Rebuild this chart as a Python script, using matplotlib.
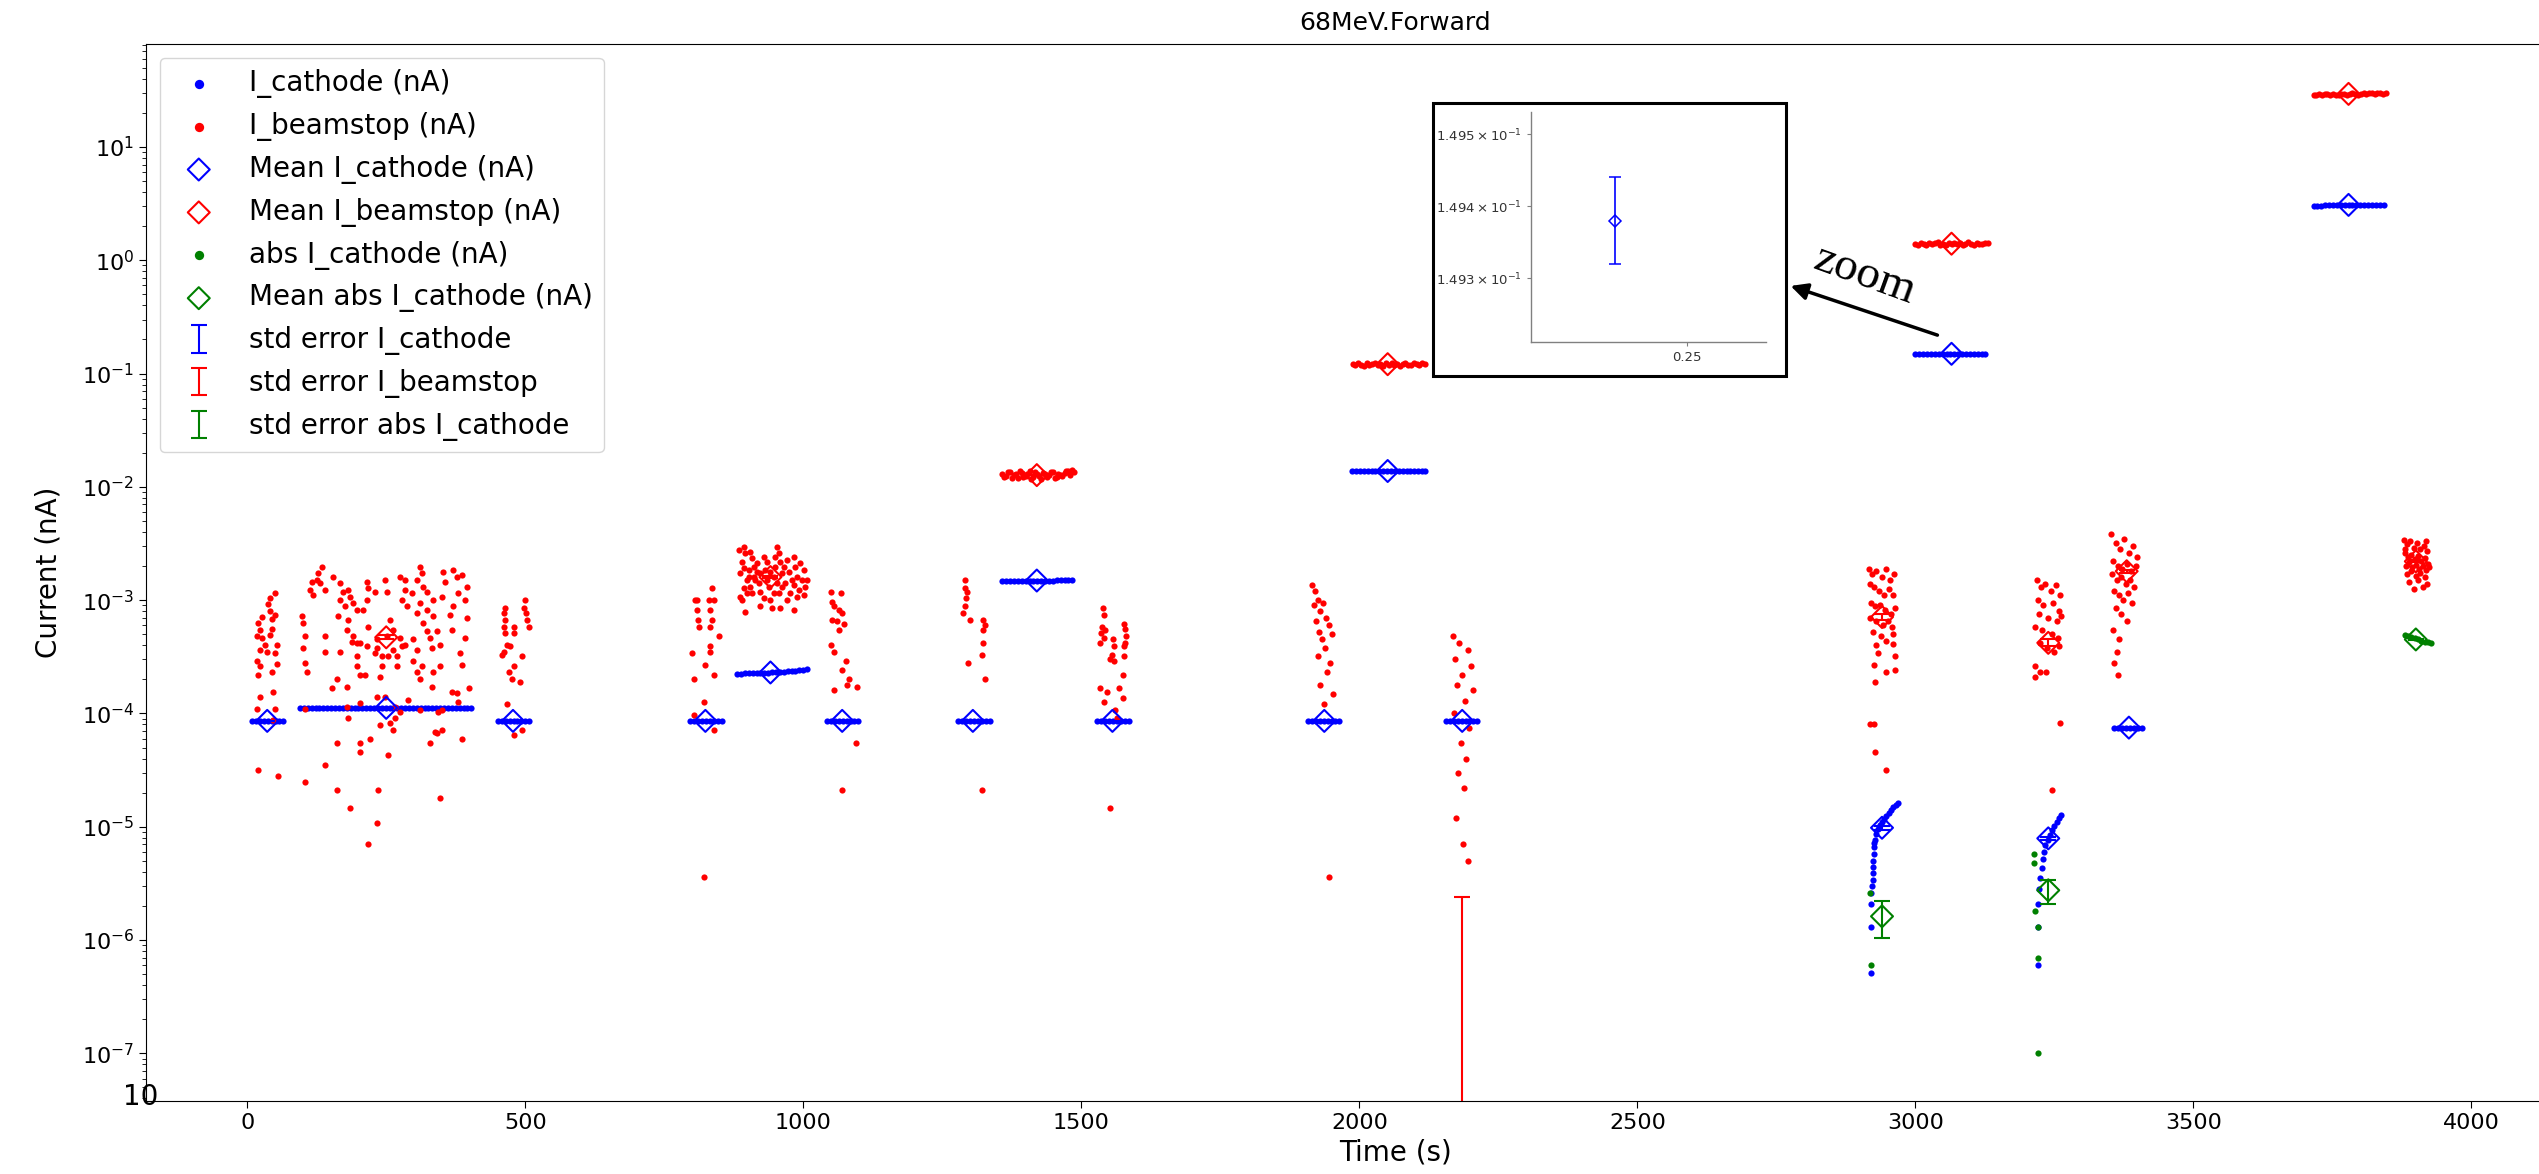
import numpy as np
import matplotlib
matplotlib.use('Agg')
import matplotlib.pyplot as plt
from matplotlib.patches import Rectangle

#%% I_cathode samples (nA), one pair of lists per beam-on / beam-off period
cath_t_01 = [9, 16, 23, 30, 37, 44, 51, 58, 65]
cath_i_01 = [8.6e-5, 8.6e-5, 8.6e-5, 8.6e-5, 8.6e-5, 8.6e-5, 8.6e-5, 8.6e-5, 8.6e-5]
cath_t_02 = [95, 102, 109, 116, 123, 130, 137, 144, 151, 158, 165, 172, 179, 186, 193,
             200, 207, 214, 221, 228, 235, 242, 249, 256, 263, 270, 277, 284, 291, 298,
             305, 312, 319, 326, 333, 340, 347, 354, 361, 368, 375, 382, 389, 396, 403]
cath_i_02 = [1.12e-4, 1.12e-4, 1.12e-4, 1.12e-4, 1.12e-4, 1.12e-4, 1.12e-4, 1.12e-4, 1.12e-4,
             1.12e-4, 1.12e-4, 1.12e-4, 1.12e-4, 1.12e-4, 1.12e-4, 1.12e-4, 1.12e-4, 1.12e-4,
             1.12e-4, 1.12e-4, 1.12e-4, 1.12e-4, 1.12e-4, 1.12e-4, 1.12e-4, 1.12e-4, 1.12e-4,
             1.12e-4, 1.12e-4, 1.12e-4, 1.12e-4, 1.12e-4, 1.12e-4, 1.12e-4, 1.12e-4, 1.12e-4,
             1.12e-4, 1.12e-4, 1.12e-4, 1.12e-4, 1.12e-4, 1.12e-4, 1.12e-4, 1.12e-4, 1.12e-4]
cath_t_03 = [451, 458, 465, 472, 479, 486, 493, 500, 507]
cath_i_03 = [8.6e-5, 8.6e-5, 8.6e-5, 8.6e-5, 8.6e-5, 8.6e-5, 8.6e-5, 8.6e-5, 8.6e-5]
cath_t_04 = [797, 804, 811, 818, 825, 832, 839, 846, 853]
cath_i_04 = [8.6e-5, 8.6e-5, 8.6e-5, 8.6e-5, 8.6e-5, 8.6e-5, 8.6e-5, 8.6e-5, 8.6e-5]
cath_t_05 = [881, 888, 895, 902, 909, 916, 923, 930, 937, 944, 951, 958, 965, 972, 979,
             986, 993, 1000, 1007]
cath_i_05 = [2.25e-4, 2.25e-4, 2.26e-4, 2.26e-4, 2.27e-4, 2.27e-4, 2.28e-4, 2.28e-4, 2.29e-4,
             2.30e-4, 2.31e-4, 2.32e-4, 2.33e-4, 2.35e-4, 2.37e-4, 2.39e-4, 2.42e-4, 2.44e-4,
             2.45e-4]
cath_t_06 = [1043, 1050, 1057, 1064, 1071, 1078, 1085, 1092, 1099]
cath_i_06 = [8.6e-5, 8.6e-5, 8.6e-5, 8.6e-5, 8.6e-5, 8.6e-5, 8.6e-5, 8.6e-5, 8.6e-5]
cath_t_07 = [1279, 1286, 1293, 1300, 1307, 1314, 1321, 1328, 1335]
cath_i_07 = [8.6e-5, 8.6e-5, 8.6e-5, 8.6e-5, 8.6e-5, 8.6e-5, 8.6e-5, 8.6e-5, 8.6e-5]
cath_t_08 = [1358, 1365, 1372, 1379, 1386, 1393, 1400, 1407, 1414, 1421, 1428, 1435, 1442,
             1449, 1456, 1463, 1470, 1477, 1484]
cath_i_08 = [1.48e-3, 1.48e-3, 1.48e-3, 1.48e-3, 1.49e-3, 1.49e-3, 1.49e-3, 1.49e-3, 1.49e-3,
             1.49e-3, 1.49e-3, 1.49e-3, 1.49e-3, 1.49e-3, 1.50e-3, 1.50e-3, 1.51e-3, 1.52e-3,
             1.52e-3]
cath_t_09 = [1529, 1536, 1543, 1550, 1557, 1564, 1571, 1578, 1585]
cath_i_09 = [8.6e-5, 8.6e-5, 8.6e-5, 8.6e-5, 8.6e-5, 8.6e-5, 8.6e-5, 8.6e-5, 8.6e-5]
cath_t_10 = [1908, 1915, 1922, 1929, 1936, 1943, 1950, 1957, 1964]
cath_i_10 = [8.6e-5, 8.6e-5, 8.6e-5, 8.6e-5, 8.6e-5, 8.6e-5, 8.6e-5, 8.6e-5, 8.6e-5]
cath_t_11 = [1987, 1994, 2001, 2008, 2015, 2022, 2029, 2036, 2043, 2050, 2057, 2064, 2071,
             2078, 2085, 2092, 2099, 2106, 2113, 2119]
cath_i_11 = [1.38e-2, 1.38e-2, 1.38e-2, 1.38e-2, 1.38e-2, 1.38e-2, 1.38e-2, 1.38e-2, 1.38e-2,
             1.38e-2, 1.38e-2, 1.38e-2, 1.38e-2, 1.38e-2, 1.38e-2, 1.38e-2, 1.38e-2, 1.38e-2,
             1.38e-2, 1.38e-2]
cath_t_12 = [2156, 2163, 2170, 2177, 2184, 2191, 2198, 2205, 2212]
cath_i_12 = [8.6e-5, 8.6e-5, 8.6e-5, 8.6e-5, 8.6e-5, 8.6e-5, 8.6e-5, 8.6e-5, 8.6e-5]
cath_t_13 = [2920, 2920, 2921, 2921, 2922, 2923, 2923, 2924, 2924, 2925, 2925, 2926, 2927,
             2929, 2932, 2936, 2940, 2944, 2948, 2952, 2956, 2960, 2965, 2968]
cath_i_13 = [5.1e-7, 1.3e-6, 2.1e-6, 2.6e-6, 3.0e-6, 3.4e-6, 3.9e-6, 4.4e-6, 5.0e-6, 5.8e-6,
             6.6e-6, 7.2e-6, 7.7e-6, 8.6e-6, 9.5e-6, 1.03e-5, 1.10e-5, 1.17e-5, 1.25e-5,
             1.33e-5, 1.42e-5, 1.50e-5, 1.57e-5, 1.62e-5]
cath_t_14 = [3220, 3220, 3221, 3223, 3225, 3227, 3229, 3231, 3234, 3238, 3242, 3246, 3250,
             3254, 3258, 3262]
cath_i_14 = [6.0e-7, 1.3e-6, 2.1e-6, 2.8e-6, 3.5e-6, 4.3e-6, 5.2e-6, 6.0e-6, 6.9e-6, 7.6e-6,
             8.4e-6, 9.3e-6, 1.02e-5, 1.10e-5, 1.19e-5, 1.28e-5]
cath_t_15 = [3000, 3007, 3014, 3021, 3028, 3035, 3042, 3049, 3056, 3063, 3070, 3077, 3084,
             3091, 3098, 3105, 3112, 3119, 3126]
cath_i_15 = [0.1494, 0.1494, 0.1494, 0.1494, 0.1494, 0.1494, 0.1494, 0.1494, 0.1494, 0.1494,
             0.1494, 0.1494, 0.1494, 0.1494, 0.1494, 0.1494, 0.1494, 0.1494, 0.1494]
cath_t_16 = [3358, 3365, 3372, 3379, 3386, 3393, 3400, 3407]
cath_i_16 = [7.5e-5, 7.5e-5, 7.5e-5, 7.5e-5, 7.5e-5, 7.5e-5, 7.5e-5, 7.5e-5]
cath_t_17 = [3716, 3723, 3730, 3737, 3744, 3751, 3758, 3765, 3772, 3779, 3786, 3793, 3800,
             3807, 3814, 3821, 3828, 3835, 3842]
cath_i_17 = [3.02, 3.03, 3.04, 3.06, 3.07, 3.08, 3.08, 3.08, 3.08, 3.08, 3.08, 3.09, 3.09,
             3.09, 3.09, 3.09, 3.09, 3.09, 3.09]

#%% I_beamstop samples (nA)
beam_t_01 = [50, 41, 38, 41, 26, 50, 20, 44, 23, 17, 26, 41, 44, 32, 23, 53, 35, 50, 17, 53,
             23, 20, 44, 23, 47, 17, 50, 47, 20, 56]
beam_i_01 = [1.15e-3, 1.05e-3, 9.3e-4, 8.1e-4, 7.1e-4, 7.4e-4, 6.3e-4, 6.8e-4, 5.5e-4, 4.8e-4,
             4.6e-4, 4.9e-4, 5.6e-4, 4.0e-4, 3.6e-4, 4.0e-4, 3.5e-4, 3.4e-4, 2.9e-4, 2.75e-4,
             2.6e-4, 2.2e-4, 2.3e-4, 1.4e-4, 1.55e-4, 1.1e-4, 1.1e-4, 8.7e-5, 3.2e-5, 2.8e-5]
beam_t_02 = [134, 128, 125, 116, 131, 113, 119, 140, 155, 167, 173, 182, 167, 185, 191, 176,
             197, 215, 218, 230, 248, 251, 215, 209, 275, 284, 284, 278, 287, 296, 311, 314,
             305, 317, 323, 311, 305, 335, 350, 353, 356, 371, 377, 386, 395, 392, 380, 371,
             395, 365, 335, 323,
             98, 101, 104, 101, 104, 107, 140, 140, 167, 179, 182, 191, 197, 188, 203, 215,
             218, 233, 233, 242, 230, 251, 257, 263, 263, 269, 269, 242, 275, 278, 284, 299,
             305, 317, 323, 329, 332, 341, 347, 347, 314, 305, 335, 332, 311, 299, 197, 203,
             212, 239, 197, 161, 179, 152, 383, 386, 392, 368, 398, 368, 377, 380, 164, 254,
             104, 179, 203, 233, 248, 266, 275, 266, 182, 257, 239, 263, 290, 311, 344, 350,
             341, 350, 338, 386, 329, 221, 203, 203, 161, 254, 140, 104, 161, 236, 185, 233,
             218, 347]
beam_i_02 = [1.98e-3, 1.73e-3, 1.51e-3, 1.46e-3, 1.41e-3, 1.23e-3, 1.11e-3, 1.23e-3, 1.61e-3,
             1.41e-3, 1.19e-3, 1.23e-3, 1.00e-3, 1.07e-3, 9.4e-4, 8.8e-4, 8.2e-4, 1.46e-3,
             1.27e-3, 1.19e-3, 1.51e-3, 1.19e-3, 1.00e-3, 8.2e-4, 1.61e-3, 1.51e-3, 1.23e-3,
             1.00e-3, 8.8e-4, 1.15e-3, 1.98e-3, 1.73e-3, 1.51e-3, 1.32e-3, 1.19e-3, 9.4e-4,
             7.7e-4, 1.00e-3, 1.07e-3, 1.79e-3, 1.46e-3, 1.85e-3, 1.61e-3, 1.67e-3, 1.32e-3,
             1.00e-3, 1.15e-3, 8.8e-4, 6.9e-4, 7.4e-4, 7.2e-4, 8.2e-4,
             7.2e-4, 6.3e-4, 4.8e-4, 3.8e-4, 2.8e-4, 2.3e-4, 4.8e-4, 3.5e-4, 3.5e-4, 5.5e-4,
             6.7e-4, 4.8e-4, 4.2e-4, 4.3e-4, 4.2e-4, 3.9e-4, 5.8e-4, 4.5e-4, 3.8e-4, 3.2e-4,
             3.4e-4, 4.8e-4, 6.7e-4, 5.5e-4, 3.6e-4, 3.2e-4, 2.6e-4, 2.6e-4, 4.6e-4, 3.9e-4,
             4.0e-4, 4.5e-4, 3.6e-4, 6.3e-4, 5.3e-4, 4.6e-4, 3.8e-4, 5.3e-4, 4.0e-4, 2.6e-4,
             2.6e-4, 2.3e-4, 2.3e-4, 1.7e-4, 2.0e-4, 2.9e-4, 3.2e-4, 2.2e-4, 2.2e-4, 2.1e-4,
             2.6e-4, 2.0e-4, 1.7e-4, 1.67e-4, 3.4e-4, 2.7e-4, 4.6e-4, 5.5e-4, 1.67e-4, 1.56e-4,
             1.51e-4, 1.27e-4, 7.2e-4, 3.2e-4,
             1.10e-4, 1.13e-4, 1.23e-4, 1.41e-4, 1.41e-4, 1.15e-4, 1.04e-4, 9.1e-5, 9.1e-5,
             8.2e-5, 7.9e-5, 7.2e-5, 1.32e-4, 1.07e-4, 1.04e-4, 1.07e-4, 6.7e-5, 7.2e-5, 6.9e-5,
             6.0e-5, 5.5e-5, 6.0e-5, 5.5e-5, 4.6e-5, 5.5e-5, 4.3e-5, 3.5e-5, 2.5e-5, 2.1e-5,
             2.1e-5, 1.46e-5, 1.07e-5, 7.1e-6, 1.8e-5]
beam_t_03 = [500, 497, 502, 503, 506, 464, 461, 464, 461, 479, 464, 479, 467, 473, 461, 458,
             494, 479, 470, 476, 491, 467, 494, 479]
beam_i_03 = [1.0e-3, 8.5e-4, 7.7e-4, 6.7e-4, 5.8e-4, 8.5e-4, 7.7e-4, 6.7e-4, 5.8e-4, 5.8e-4,
             5.1e-4, 5.1e-4, 4.0e-4, 3.9e-4, 3.5e-4, 3.3e-4, 3.2e-4, 2.6e-4, 2.3e-4, 2.0e-4,
             1.9e-4, 1.2e-4, 7.2e-5, 6.5e-5]
beam_t_04 = [806, 809, 810, 812, 836, 839, 833, 836, 833, 848, 832, 833, 800, 824, 839, 803,
             821, 803, 839, 821, 830, 809]
beam_i_04 = [1.0e-3, 8.2e-4, 6.7e-4, 5.8e-4, 1.27e-3, 1.0e-3, 8.2e-4, 6.7e-4, 5.8e-4, 4.8e-4,
             3.9e-4, 3.5e-4, 3.4e-4, 2.7e-4, 2.2e-4, 2.0e-4, 1.25e-4, 9.7e-5, 7.2e-5, 3.6e-6,
             1.0e-3, 1.0e-3]
beam_t_05 = [884, 893, 896, 905, 908, 890, 887, 893, 902, 899, 911, 917, 923, 914, 920, 905,
             893, 887, 890, 899, 908, 923, 929, 935, 941, 947, 938, 953, 956, 959, 950, 962,
             953, 947, 941, 923, 944, 959, 896, 965, 971, 974, 968, 977, 971, 983, 986, 989,
             983, 992, 995, 1001, 998, 1004, 1007, 1001, 989, 980, 935, 929, 917, 911, 902,
             932, 956, 962, 950, 984]
beam_i_05 = [2.77e-3, 2.97e-3, 2.59e-3, 2.68e-3, 2.34e-3, 2.19e-3, 1.73e-3, 1.91e-3, 1.85e-3,
             1.51e-3, 1.98e-3, 1.79e-3, 1.73e-3, 1.51e-3, 1.41e-3, 1.32e-3, 1.27e-3, 1.07e-3,
             1.0e-3, 1.15e-3, 1.15e-3, 1.19e-3, 1.04e-3, 1.51e-3, 1.79e-3, 1.61e-3, 1.32e-3,
             2.97e-3, 2.59e-3, 2.19e-3, 1.98e-3, 1.73e-3, 1.41e-3, 1.15e-3, 1.0e-3, 8.8e-4,
             8.5e-4, 8.5e-4, 7.8e-4, 1.98e-3, 2.26e-3, 1.79e-3, 1.41e-3, 1.15e-3, 1.0e-3,
             2.42e-3, 1.98e-3, 1.61e-3, 1.36e-3, 1.23e-3, 2.11e-3, 1.85e-3, 1.51e-3, 1.32e-3,
             1.51e-3, 1.11e-3, 1.07e-3, 1.51e-3, 2.19e-3, 2.42e-3, 2.11e-3, 1.61e-3, 1.61e-3,
             1.85e-3, 1.15e-3, 1.32e-3, 2.42e-3, 8.2e-4]
beam_t_06 = [1049, 1067, 1052, 1055, 1064, 1070, 1052, 1061, 1073, 1064, 1049, 1055, 1076,
             1070, 1082, 1097, 1079, 1055, 1094, 1070]
beam_i_06 = [1.19e-3, 1.15e-3, 9.7e-4, 8.8e-4, 8.2e-4, 7.7e-4, 6.7e-4, 6.5e-4, 6.2e-4, 5.5e-4,
             4.0e-4, 3.5e-4, 2.9e-4, 2.4e-4, 2.0e-4, 1.7e-4, 1.8e-4, 1.6e-4, 5.5e-5, 2.1e-5]
beam_t_07 = [1291, 1290, 1294, 1293, 1291, 1288, 1299, 1324, 1327, 1323, 1324, 1321, 1297,
             1327, 1321]
beam_i_07 = [1.51e-3, 1.27e-3, 1.19e-3, 1.04e-3, 8.8e-4, 7.7e-4, 6.7e-4, 6.7e-4, 6.0e-4,
             5.5e-4, 4.2e-4, 3.3e-4, 2.8e-4, 2.0e-4, 2.1e-5]
beam_t_08 = [1358, 1361, 1365, 1368, 1372, 1375, 1379, 1382, 1386, 1389, 1393, 1396, 1400,
             1403, 1407, 1410, 1414, 1417, 1421, 1424, 1428, 1431, 1435, 1438, 1442, 1445,
             1449, 1452, 1456, 1459, 1463, 1466, 1470, 1473, 1477, 1480, 1484, 1487]
beam_i_08 = [1.30e-2, 1.23e-2, 1.24e-2, 1.34e-2, 1.36e-2, 1.20e-2, 1.27e-2, 1.29e-2, 1.19e-2,
             1.37e-2, 1.33e-2, 1.22e-2, 1.25e-2, 1.31e-2, 1.38e-2, 1.18e-2, 1.22e-2, 1.35e-2,
             1.29e-2, 1.24e-2, 1.17e-2, 1.32e-2, 1.31e-2, 1.21e-2, 1.26e-2, 1.36e-2, 1.35e-2,
             1.19e-2, 1.21e-2, 1.30e-2, 1.28e-2, 1.25e-2, 1.33e-2, 1.39e-2, 1.37e-2, 1.28e-2,
             1.40e-2, 1.34e-2]
beam_t_09 = [1539, 1540, 1537, 1535, 1540, 1534, 1543, 1557, 1559, 1555, 1558, 1552, 1576,
             1579, 1581, 1579, 1576, 1577, 1575, 1534, 1546, 1540, 1567, 1575, 1561, 1564, 1551]
beam_i_09 = [8.6e-4, 7.4e-4, 5.8e-4, 5.1e-4, 4.6e-4, 4.2e-4, 5.5e-4, 4.5e-4, 3.9e-4, 3.3e-4,
             2.9e-4, 3.0e-4, 6.2e-4, 5.6e-4, 4.8e-4, 4.2e-4, 3.9e-4, 3.2e-4, 2.2e-4, 1.67e-4,
             1.56e-4, 1.25e-4, 1.67e-4, 1.36e-4, 1.07e-4, 9.1e-5, 1.46e-5]
beam_t_10 = [1915, 1920, 1925, 1918, 1930, 1935, 1940, 1922, 1945, 1928, 1950, 1933, 1938,
             1926, 1948, 1942, 1930, 1952, 1936, 1946]
beam_i_10 = [1.35e-3, 1.2e-3, 1.0e-3, 9.0e-4, 8.0e-4, 9.5e-4, 7.0e-4, 6.5e-4, 6.0e-4, 5.2e-4,
             5.0e-4, 4.5e-4, 3.8e-4, 3.2e-4, 2.8e-4, 2.3e-4, 1.8e-4, 1.5e-4, 1.2e-4, 3.6e-6]
beam_t_11 = [1988, 1993, 1998, 2003, 2008, 2013, 2018, 2023, 2028, 2033, 2038, 2043, 2048,
             2053, 2058, 2063, 2068, 2073, 2078, 2083, 2088, 2093, 2098, 2103, 2108, 2113, 2118]
beam_i_11 = [0.121, 0.118, 0.124, 0.120, 0.117, 0.123, 0.119, 0.122, 0.125, 0.118, 0.121,
             0.116, 0.123, 0.120, 0.124, 0.119, 0.122, 0.117, 0.121, 0.125, 0.120, 0.118,
             0.123, 0.121, 0.119, 0.124, 0.122]
beam_t_12 = [2168, 2180, 2195, 2172, 2200, 2185, 2176, 2205, 2190, 2170, 2198, 2182, 2192,
             2178, 2188, 2174, 2186, 2196]
beam_i_12 = [4.8e-4, 4.2e-4, 3.6e-4, 3.0e-4, 2.6e-4, 2.2e-4, 1.8e-4, 1.6e-4, 1.3e-4, 1.0e-4,
             7.5e-5, 5.5e-5, 4.0e-5, 3.0e-5, 2.2e-5, 1.2e-5, 7.0e-6, 5.0e-6]
beam_t_13 = [2916, 2922, 2930, 2940, 2948, 2955, 2962, 2918, 2926, 2934, 2944, 2952, 2960,
             2920, 2928, 2936, 2946, 2956, 2964, 2918, 2930, 2942, 2950, 2958, 2924, 2938,
             2948, 2960, 2930, 2959, 2963, 2933, 2925, 2948, 2963, 2927, 2925, 2918, 2927, 2948]
beam_i_13 = [1.9e-3, 1.7e-3, 1.8e-3, 1.6e-3, 1.9e-3, 1.5e-3, 1.7e-3, 1.4e-3, 1.3e-3, 1.2e-3,
             1.1e-3, 1.25e-3, 1.1e-3, 9.5e-4, 8.8e-4, 9.0e-4, 8.2e-4, 7.5e-4, 8.5e-4, 7.0e-4,
             6.5e-4, 6.0e-4, 6.6e-4, 5.8e-4, 5.2e-4, 4.8e-4, 4.4e-4, 5.0e-4, 4.0e-4, 4.1e-4,
             3.2e-4, 3.4e-4, 2.7e-4, 2.3e-4, 2.4e-4, 1.9e-4, 8.0e-5, 8.0e-5, 4.6e-5, 3.2e-5]
beam_t_14 = [3218, 3226, 3234, 3244, 3252, 3260, 3220, 3230, 3248, 3258, 3222, 3238, 3254,
             3262, 3216, 3228, 3246, 3256, 3224, 3236, 3250, 3258, 3216, 3224, 3235, 3216,
             3260, 3245]
beam_i_14 = [1.5e-3, 1.3e-3, 1.4e-3, 1.2e-3, 1.35e-3, 1.1e-3, 1.0e-3, 9.0e-4, 9.5e-4, 8.0e-4,
             7.5e-4, 7.0e-4, 6.5e-4, 7.2e-4, 5.8e-4, 5.5e-4, 5.0e-4, 4.6e-4, 4.2e-4, 3.8e-4,
             3.5e-4, 3.9e-4, 2.6e-4, 2.3e-4, 2.3e-4, 2.1e-4, 8.3e-5, 2.1e-5]
beam_t_15 = [3000, 3005, 3010, 3015, 3020, 3025, 3030, 3035, 3040, 3045, 3050, 3055, 3060,
             3065, 3070, 3075, 3080, 3085, 3090, 3095, 3100, 3105, 3110, 3115, 3120, 3125, 3130]
beam_i_15 = [1.40, 1.37, 1.43, 1.39, 1.36, 1.42, 1.38, 1.41, 1.44, 1.37, 1.40, 1.35, 1.42,
             1.39, 1.43, 1.38, 1.41, 1.36, 1.40, 1.44, 1.39, 1.37, 1.42, 1.40, 1.38, 1.43, 1.41]
beam_t_16 = [3352, 3360, 3368, 3376, 3384, 3392, 3398, 3356, 3364, 3372, 3380, 3388, 3396,
             3354, 3362, 3370, 3378, 3386, 3394, 3358, 3366, 3374, 3382, 3390, 3360, 3370,
             3380, 3356, 3366, 3362, 3358, 3364]
beam_i_16 = [3.8e-3, 3.2e-3, 2.8e-3, 3.5e-3, 2.6e-3, 3.0e-3, 2.4e-3, 2.2e-3, 2.0e-3, 1.9e-3,
             2.1e-3, 1.8e-3, 2.0e-3, 1.7e-3, 1.5e-3, 1.6e-3, 1.4e-3, 1.5e-3, 1.3e-3, 1.2e-3,
             1.1e-3, 1.0e-3, 1.15e-3, 9.5e-4, 8.5e-4, 7.5e-4, 6.5e-4, 5.5e-4, 4.5e-4, 3.5e-4,
             2.8e-4, 2.2e-4]
beam_t_17 = [3716, 3721, 3726, 3731, 3736, 3741, 3746, 3751, 3756, 3761, 3766, 3771, 3776,
             3781, 3786, 3791, 3796, 3801, 3806, 3811, 3816, 3821, 3826, 3831, 3836, 3841, 3846]
beam_i_17 = [29.0, 28.6, 29.3, 28.8, 29.5, 29.1, 28.7, 29.4, 29.0, 28.5, 29.2, 29.6, 28.9,
             29.3, 29.7, 29.1, 28.8, 29.5, 30.0, 29.2, 29.8, 30.2, 29.4, 29.9, 30.1, 29.6, 30.0]
beam_t_18 = [3878, 3884, 3890, 3896, 3902, 3908, 3914, 3920, 3880, 3886, 3892, 3898, 3904,
             3910, 3916, 3922, 3882, 3888, 3894, 3900, 3906, 3912, 3918, 3924, 3884, 3892,
             3900, 3908, 3916, 3888, 3904, 3920, 3896, 3912, 3880, 3918]
beam_i_18 = [3.4e-3, 3.1e-3, 3.3e-3, 2.9e-3, 3.2e-3, 2.8e-3, 3.0e-3, 2.7e-3, 2.6e-3, 2.4e-3,
             2.5e-3, 2.3e-3, 2.45e-3, 2.2e-3, 2.35e-3, 2.1e-3, 2.0e-3, 2.15e-3, 1.95e-3,
             2.05e-3, 1.9e-3, 2.0e-3, 1.85e-3, 1.95e-3, 1.7e-3, 1.8e-3, 1.65e-3, 1.75e-3,
             1.6e-3, 1.45e-3, 1.5e-3, 1.4e-3, 1.25e-3, 1.3e-3, 2.8e-3, 3.3e-3]

#%% abs(I_cathode) where the cathode current went negative
abs_t = [2918, 2920, 3214, 3214, 3216, 3220, 3220, 3220,
         3880, 3886, 3892, 3898, 3904, 3910, 3916, 3922, 3928]
abs_i = [2.6e-6, 6.0e-7, 5.8e-6, 4.8e-6, 1.8e-6, 1.3e-6, 7.0e-7, 1.0e-7,
         4.9e-4, 4.8e-4, 4.7e-4, 4.6e-4, 4.5e-4, 4.4e-4, 4.3e-4, 4.25e-4, 4.2e-4]

#%% period means and standard errors
mean_t = [36, 250, 478, 824, 941, 1070, 1305, 1420, 1556, 1937, 2051, 2185, 2940, 3065,
          3239, 3384, 3779]
cath_mean = [8.6e-5, 1.12e-4, 8.6e-5, 8.6e-5, 2.3e-4, 8.6e-5, 8.6e-5, 1.49e-3, 8.6e-5,
             8.6e-5, 1.38e-2, 8.6e-5, 9.8e-6, 0.14938, 7.9e-6, 7.5e-5, 3.08]
cath_err = [1e-7, 2e-7, 1e-7, 1e-7, 5e-7, 1e-7, 1e-7, 2e-6, 1e-7, 1e-7, 1e-5, 1e-7, 4e-7,
            6.1e-5, 3e-7, 1e-7, 2e-3]

beam_mean_t = [250, 941, 1420, 2051, 2185, 2940, 3065, 3239, 3380, 3779, 3900]
beam_mean = [4.7e-4, 1.6e-3, 1.27e-2, 0.121, -1.0e-5, 7.1e-4, 1.40, 4.2e-4, 1.8e-3, 29.4, 2.2e-3]
beam_err = [2e-5, 3e-5, 3e-5, 2e-4, 1.24e-5, 4e-5, 2e-3, 3e-5, 6e-5, 0.02, 4e-5]

abs_mean_t = [2940, 3239, 3900]
abs_mean = [1.62e-6, 2.75e-6, 4.5e-4]
abs_err = [5.7e-7, 6.5e-7, 3e-6]

# zoomed view of the 3065 s cathode mean
inset_x = [0.181]
inset_idx = 13

cath_t = np.concatenate([cath_t_01, cath_t_02, cath_t_03, cath_t_04, cath_t_05, cath_t_06,
                         cath_t_07, cath_t_08, cath_t_09, cath_t_10, cath_t_11, cath_t_12,
                         cath_t_13, cath_t_14, cath_t_15, cath_t_16, cath_t_17])
cath_i = np.concatenate([cath_i_01, cath_i_02, cath_i_03, cath_i_04, cath_i_05, cath_i_06,
                         cath_i_07, cath_i_08, cath_i_09, cath_i_10, cath_i_11, cath_i_12,
                         cath_i_13, cath_i_14, cath_i_15, cath_i_16, cath_i_17])
beam_t = np.concatenate([beam_t_01, beam_t_02, beam_t_03, beam_t_04, beam_t_05, beam_t_06,
                         beam_t_07, beam_t_08, beam_t_09, beam_t_10, beam_t_11, beam_t_12,
                         beam_t_13, beam_t_14, beam_t_15, beam_t_16, beam_t_17, beam_t_18])
beam_i = np.concatenate([beam_i_01, beam_i_02, beam_i_03, beam_i_04, beam_i_05, beam_i_06,
                         beam_i_07, beam_i_08, beam_i_09, beam_i_10, beam_i_11, beam_i_12,
                         beam_i_13, beam_i_14, beam_i_15, beam_i_16, beam_i_17, beam_i_18])

#%% plot
fig = plt.figure(figsize=(25.39, 11.74), dpi=100)
ax = fig.add_axes([0.0575, 0.0622, 0.984, 0.9003])
ax.set_yscale('log')

dot = 20
dia = 125
ax.scatter(cath_t, cath_i, s=dot, c='b', linewidths=0, label='I_cathode (nA)')
ax.scatter(beam_t, beam_i, s=dot, c='r', linewidths=0, label='I_beamstop (nA)')
ax.scatter(mean_t, cath_mean, s=dia, marker='D', facecolors='none', edgecolors='b',
           linewidths=1.5, label='Mean I_cathode (nA)')
ax.scatter(beam_mean_t, beam_mean, s=dia, marker='D', facecolors='none', edgecolors='r',
           linewidths=1.5, label='Mean I_beamstop (nA)')
ax.scatter(abs_t, abs_i, s=dot, c='g', linewidths=0, label='abs I_cathode (nA)')
ax.scatter(abs_mean_t, abs_mean, s=dia, marker='D', facecolors='none', edgecolors='g',
           linewidths=1.5, label='Mean abs I_cathode (nA)')
ax.errorbar(mean_t, cath_mean, yerr=cath_err, fmt='none', ecolor='b', elinewidth=1.5,
            capsize=6, capthick=1.5, label='std error I_cathode')
ax.errorbar(beam_mean_t, beam_mean, yerr=beam_err, fmt='none', ecolor='r', elinewidth=1.5,
            capsize=6, capthick=1.5, label='std error I_beamstop')
ax.errorbar(abs_mean_t, abs_mean, yerr=abs_err, fmt='none', ecolor='g', elinewidth=1.5,
            capsize=6, capthick=1.5, label='std error abs I_cathode')

ax.set_xlim(-182, 4311)
ax.set_ylim(3.8e-8, 81)
ax.set_xticks([0, 500, 1000, 1500, 2000, 2500, 3000, 3500, 4000])
ax.tick_params(labelsize=16, length=5)
ax.tick_params(which='minor', length=3)
ax.set_xlabel('Time (s)', fontsize=20)
ax.set_ylabel('Current (nA)', fontsize=20, labelpad=14)
ax.set_title('68MeV.Forward', fontsize=18, pad=10)

leg = ax.legend(loc='upper left', fontsize=20)
for h in leg.legend_handles:
    if hasattr(h, 'get_sizes') and len(h.get_sizes()) and h.get_sizes()[0] == dot:
        h.set_sizes([45])

fig.text(0.0555, 0.0656, '10', fontsize=20, ha='center', va='center', color='black')

# inset with the zoomed error bar
box = Rectangle((0.5644, 0.6797), 0.139, 0.2325, transform=fig.transFigure,
                facecolor='white', edgecolor='black', lw=2.2, zorder=3)
fig.add_artist(box)
axin = fig.add_axes([0.603, 0.7087, 0.0926, 0.1959], zorder=4)
axin.patch.set_alpha(0)
axin.errorbar(inset_x, [cath_mean[inset_idx]], yerr=[cath_err[inset_idx]], fmt='D',
              mfc='none', mec='b', ecolor='b', ms=6, mew=1.1, elinewidth=1.2,
              capsize=4, capthick=1.2)
axin.set_xlim(0.1, 0.326)
axin.set_ylim(0.149211, 0.149531)
axin.set_xticks([0.25])
axin.set_xticklabels(['0.25'])
axin.set_yticks([0.1493, 0.1494, 0.1495])
axin.set_yticklabels([r'$\mathdefault{1.493\times10^{-1}}$',
                      r'$\mathdefault{1.494\times10^{-1}}$',
                      r'$\mathdefault{1.495\times10^{-1}}$'])
for side in ['top', 'right']:
    axin.spines[side].set_visible(False)
for side in ['left', 'bottom']:
    axin.spines[side].set_color('#808080')
    axin.spines[side].set_linewidth(1.0)
axin.tick_params(labelsize=9.5, colors='#808080', labelcolor='#333333', length=3)

fig.text(0.7345, 0.7658, 'zoom', rotation=-20, fontsize=34, family='Liberation Serif',
         ha='center', va='center', rotation_mode='anchor')
ax.annotate('', xy=(0.7042, 0.7572), xycoords='figure fraction',
            xytext=(0.7641, 0.7138), textcoords='figure fraction',
            arrowprops=dict(arrowstyle='-|>', color='black', lw=2.5, mutation_scale=25))

fig.savefig('out.png', dpi=100)
